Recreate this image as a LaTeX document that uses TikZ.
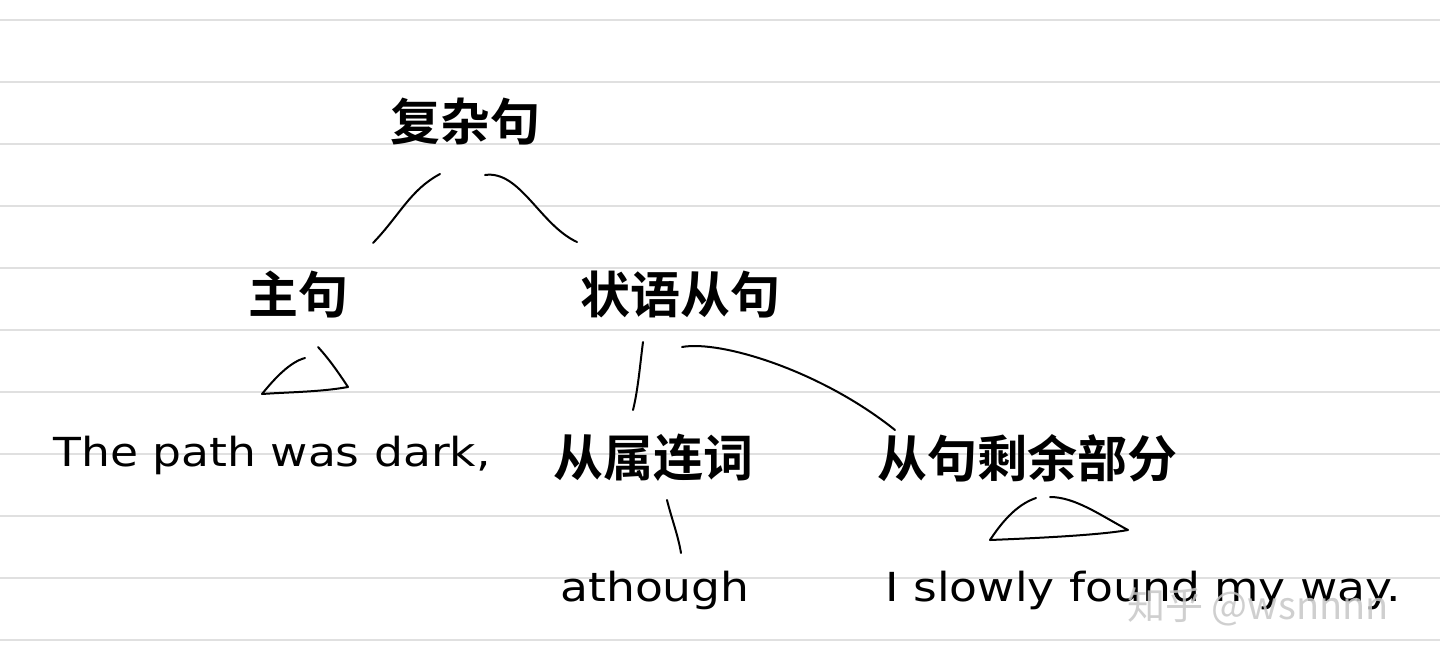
\documentclass[tikz,border=0pt]{standalone}
\usepackage{fontspec}
\newfontfamily\cjk{Noto Sans CJK SC Bold}
\newfontfamily\cjkl{Noto Sans CJK SC}
\newfontfamily\hand{DejaVu Sans}
\begin{document}
\begin{tikzpicture}[x=1pt,y=-1pt,
  zh/.style={font=\cjk\fontsize{50}{54}\selectfont,inner sep=0pt},
  en/.style={font=\hand\fontsize{40}{44}\selectfont,inner sep=0pt,xscale=1.14},
  pen/.style={line width=2pt,line cap=round,line join=round}]
\useasboundingbox (0,0) rectangle (1440,670);
\fill[white] (0,0) rectangle (1440,670);
\foreach \y in {20,82,144,206,268,330,392,454,516,578,640}
  \draw[black!12,line width=1.2pt] (0,\y) -- (1440,\y);
\node[zh] (root) at (465,122) {复杂句};
\node[zh] (main) at (298,295) {主句};
\node[zh] (adv) at (680,295) {状语从句};
\node[zh] (conj) at (653,458) {从属连词};
\node[zh] (rest) at (1027,458) {从句剩余部分};
\node[en] (t1) at (272,455) {The path was dark,};
\node[en] (t2) at (655,590) {athough};
\node[en] (t3) at (1143,590) {I slowly found my way.};
\node[font=\cjkl\fontsize{38}{42}\selectfont,text=black!22,opacity=0.85,inner sep=0pt] (wm) at (1258,607) {知乎 @wsnnnn};
\draw[pen] (440,174) .. controls (410,190) and (400,215) .. (373,243);
\draw[pen] (485,175) .. controls (520,170) and (540,225) .. (577,242);
\draw[pen] (318,347) .. controls (330,360) and (340,375) .. (348,387)
  .. controls (320,392) and (290,392) .. (262,394)
  .. controls (275,378) and (290,362) .. (305,358);
\draw[pen] (643,342) .. controls (640,365) and (638,390) .. (633,410);
\draw[pen] (682,347) .. controls (720,340) and (820,370) .. (895,430);
\draw[pen] (667,500) .. controls (672,520) and (678,535) .. (681,553);
\draw[pen] (1036,498) .. controls (1015,505) and (1000,525) .. (990,540)
  .. controls (1040,538) and (1100,535) .. (1128,530)
  .. controls (1100,515) and (1075,497) .. (1050,497);
\end{tikzpicture}
\end{document}
